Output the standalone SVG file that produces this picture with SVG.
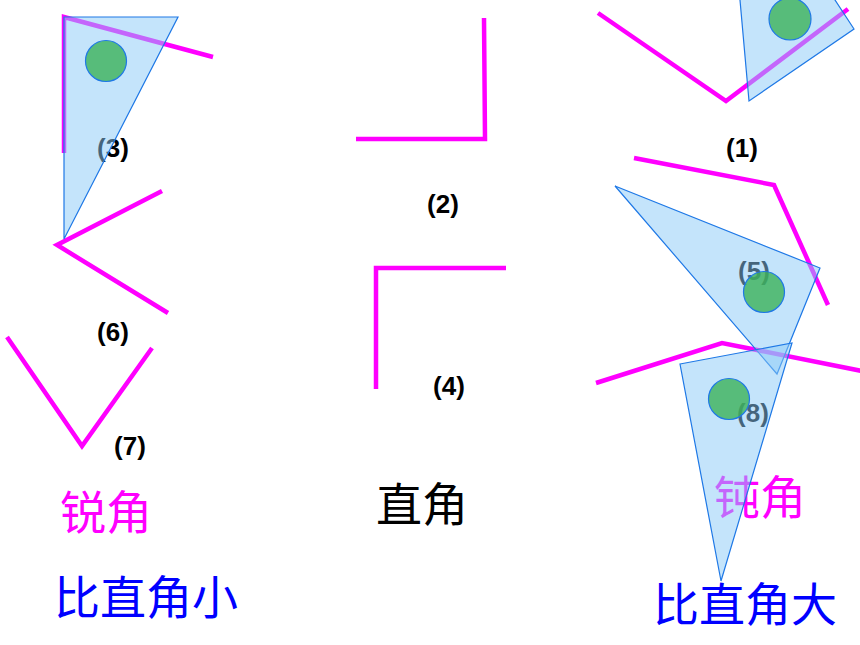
<svg xmlns="http://www.w3.org/2000/svg" width="860" height="645" viewBox="0 0 860 645">
<style>
.arm{fill:none;stroke:#ff00ff;stroke-width:4.5;stroke-linejoin:miter;stroke-linecap:butt}
.tri{fill:#89c9f7;fill-opacity:0.5;stroke:#1e78e6;stroke-width:1.2}
.dot{fill:#3cb15a;fill-opacity:0.8;stroke:#1e78e6;stroke-width:1.2}
.lbl{font-family:"Liberation Sans",Arial,sans-serif;font-weight:bold;font-size:26px;fill:#000;text-anchor:middle}
.cjk{font-family:"Noto Sans CJK SC","Noto Sans CJK TC",sans-serif;font-size:46px;text-anchor:middle}
</style>
<rect width="860" height="645" fill="#fff"/>
<g id="labels">
<text class="lbl" x="113" y="157">(3)</text>
<text class="lbl" x="113" y="341">(6)</text>
<text class="lbl" x="130" y="455">(7)</text>
<text class="lbl" x="443" y="213">(2)</text>
<text class="lbl" x="449" y="395">(4)</text>
<text class="lbl" x="742" y="157">(1)</text>
<text class="lbl" x="754" y="280">(5)</text>
<text class="lbl" x="753" y="422">(8)</text>
<text class="cjk" x="106" y="529" fill="#ff00ff">锐角</text>
<text class="cjk" x="422" y="521" fill="#000">直角</text>
<text class="cjk" x="760" y="514" fill="#ff00ff">钝角</text>
<text class="cjk" x="146" y="614" fill="#0000ff">比直角小</text>
<text class="cjk" x="745" y="621" fill="#0000ff">比直角大</text>
</g>
<g id="connectors">
<polyline class="arm" points="64,153 64,17 213,57"/>
<polyline class="arm" points="162,191 57,245 168,313"/>
<polyline class="arm" points="7,337 82,446 152,348"/>
<polyline class="arm" points="484,18 485,139 356,139"/>
<polyline class="arm" points="506,268 376,268 376,389"/>
<polyline class="arm" points="598,13 726,101 848,9"/>
<polyline class="arm" points="634,158 774,185 828,305"/>
<polyline class="arm" points="596,383 722,343 862,371"/>
</g>
<g id="node3">
<polygon class="tri" points="64,17 178,17 64,239"/>
<circle class="dot" cx="106" cy="61" r="20.5"/>
</g>
<g id="node1">
<polygon class="tri" points="725,-168 854,29 749,101"/>
<circle class="dot" cx="790" cy="19" r="21"/>
</g>
<g id="node5">
<polygon class="tri" points="615,186 820,268 777,374"/>
<circle class="dot" cx="764" cy="292" r="20.5"/>
</g>
<g id="node8">
<polygon class="tri" points="680,364 792,343 721,581"/>
<circle class="dot" cx="729" cy="399" r="20.5"/>
</g>
</svg>
